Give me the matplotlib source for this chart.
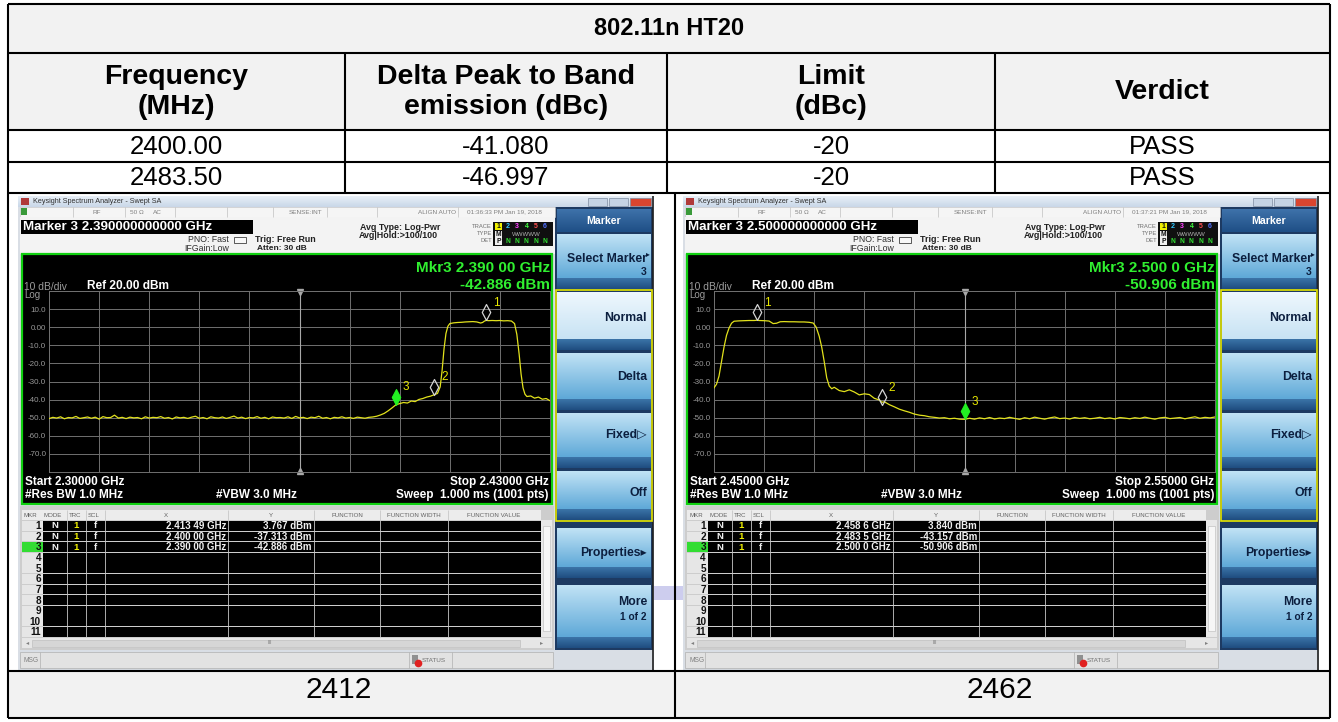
import numpy as np
import matplotlib
matplotlib.use("Agg")
import matplotlib.pyplot as plt
from matplotlib.patches import Rectangle
from matplotlib.path import Path
from matplotlib.colors import to_rgb

# ---------------- data ----------------
title = "802.11n HT20"
headers = ["Frequency\n(MHz)", "Delta Peak to Band\nemission (dBc)", "Limit\n(dBc)", "Verdict"]
band_freq = ["2400.00", "2483.50"]
delta_dbc = ["-41.080", "-46.997"]
limit_dbc = ["-20", "-20"]
verdict = ["PASS", "PASS"]
channels = ["2412", "2462"]

left_span = (2300.0, 2430.0)          # MHz
left_floor_start = 2300               # floor points every 1 MHz
left_floor_dbm = [
    -50.5, -49.8, -50.2, -49.5, -50.6, -49.9, -50.1, -49.3, -50.4, -50.0,
    -49.6, -50.3, -49.7, -50.8, -49.4, -50.0, -49.9, -48.6, -50.2, -49.8,
    -50.5, -49.7, -50.1, -49.9, -50.6, -49.5, -50.2, -49.8, -50.0, -49.4,
    -50.3, -49.9, -50.7, -49.6, -50.1, -49.8, -50.4, -49.7, -49.2, -50.3,
    -49.9, -50.6, -49.5, -50.0, -50.2, -49.6, -50.4, -49.8, -49.1, -50.2,
    -49.7, -50.5, -49.9, -50.1, -49.4, -50.3, -49.8, -50.6, -49.6, -50.0,
    -49.9, -50.2, -49.5, -50.4, -49.3, -50.1, -49.8, -50.5, -49.7, -50.0,
    -49.2, -50.3, -49.9, -50.6, -49.8, -50.1, -49.5, -50.2, -49.9, -50.4,
    -49.7, -50.0, -50.3, -49.8, -49.6, -49.2, -48.5]
left_edge = [
    (2387, -47.6), (2388, -46.2), (2389, -44.6), (2390, -42.9), (2391, -42.2),
    (2392, -41.6), (2393, -41.9), (2394, -40.8), (2395, -41.1), (2396, -39.9),
    (2397, -39.4), (2398, -38.6), (2399, -38.1), (2400, -37.3), (2400.8, -36.6),
    (2401.5, -33.0), (2402, -24.0), (2402.5, -12.0), (2403, -3.5), (2403.5, 0.5),
    (2404, 2.0), (2405, 2.4), (2406, 2.6), (2407, 2.7), (2408, 2.9), (2409, 3.0),
    (2410, 3.1), (2411, 2.9), (2412, 2.3), (2412.5, 2.6), (2413, 3.4), (2413.5, 3.77),
    (2414, 3.6), (2415, 3.7), (2416, 3.6), (2417, 3.7), (2418, 3.5), (2419, 3.6),
    (2420, 3.4), (2420.8, 2.0), (2421.4, -4.0), (2422, -15.0), (2422.5, -26.0),
    (2423, -33.5), (2423.5, -37.0), (2424, -38.3), (2425, -38.0), (2426, -39.2),
    (2427, -38.6), (2428, -39.8), (2429, -39.4), (2430, -40.6)]
left_mkr_mhz = [2413.49, 2400.00, 2390.00]
left_mkr_dbm = [3.767, -37.313, -42.886]
left_mkr_x = ["2.413 49 GHz", "2.400 00 GHz", "2.390 00 GHz"]
left_mkr_y = ["3.767 dBm", "-37.313 dBm", "-42.886 dBm"]

right_span = (2450.0, 2550.0)
right_edge = [
    (2450, -33.5), (2450.5, -31.5), (2451, -27.0), (2451.5, -19.0), (2452, -11.0),
    (2452.5, -4.5), (2453, -0.5), (2453.5, 2.2), (2454, 3.3), (2455, 3.5),
    (2456, 3.6), (2457, 3.7), (2458, 3.7), (2458.6, 3.84), (2459, 3.7), (2460, 3.6),
    (2461, 3.4), (2461.8, 2.0), (2462.5, 2.2), (2463.2, 3.0), (2464, 3.1), (2465, 3.0),
    (2466, 3.0), (2467, 2.9), (2468, 2.9), (2469, 2.7), (2469.8, 2.3), (2470.4, 0.0),
    (2471, -5.0), (2471.5, -11.0), (2472, -19.0), (2472.5, -28.0), (2473, -32.5),
    (2473.5, -34.0), (2474, -33.2), (2475, -35.0), (2476, -35.6), (2477, -34.6),
    (2478, -35.8), (2479, -37.4), (2480, -36.8), (2481, -37.2), (2482, -39.3),
    (2483, -40.2), (2483.5, -41.5), (2484, -41.2), (2485, -42.8), (2486, -44.0),
    (2487, -45.3), (2488, -46.2), (2489, -47.0), (2490, -48.0), (2491, -48.6),
    (2492, -48.9), (2493, -49.5), (2494, -49.8), (2495, -50.2), (2496, -50.0),
    (2497, -50.6), (2498, -50.3), (2499, -50.8), (2500, -50.9)]
right_floor_start = 2501
right_floor_dbm = [
    -50.3, -50.8, -50.1, -50.6, -49.9, -50.7, -50.2, -50.5, -49.8, -50.4,
    -50.9, -50.0, -50.6, -49.7, -50.3, -50.8, -50.1, -49.6, -50.5, -50.2,
    -50.7, -49.9, -50.4, -50.0, -50.6, -50.3, -49.8, -50.5, -50.1, -50.7,
    -49.9, -50.2, -50.6, -50.0, -50.4, -49.7, -50.3, -50.8, -50.1, -49.8,
    -50.5, -50.2, -49.9, -50.6, -50.0, -49.5, -50.3, -49.8, -50.1, -49.6]
right_mkr_mhz = [2458.6, 2483.5, 2500.0]
right_mkr_dbm = [3.840, -43.157, -50.906]
right_mkr_x = ["2.458 6 GHz", "2.483 5 GHz", "2.500 0 GHz"]
right_mkr_y = ["3.840 dBm", "-43.157 dBm", "-50.906 dBm"]

y_tick_labels = ["", "-70.0", "-60.0", "-50.0", "-40.0", "-30.0", "-20.0", "-10.0", "0.00", "10.0", ""]

screens = [
    dict(ox=0, time="01:36:33 PM Jan 19, 2018", marker="Marker 3 2.390000000000 GHz",
         mkr1="Mkr3 2.390 00 GHz", mkr2="-42.886 dBm",
         start="Start 2.30000 GHz", stop="Stop 2.43000 GHz",
         span=left_span,
         f=list(range(left_floor_start, left_floor_start + len(left_floor_dbm))) + [p[0] for p in left_edge],
         v=left_floor_dbm + [p[1] for p in left_edge],
         mf=left_mkr_mhz, mv=left_mkr_dbm, mx=left_mkr_x, my=left_mkr_y),
    dict(ox=665, time="01:37:21 PM Jan 19, 2018", marker="Marker 3 2.500000000000 GHz",
         mkr1="Mkr3 2.500 0 GHz", mkr2="-50.906 dBm",
         start="Start 2.45000 GHz", stop="Stop 2.55000 GHz",
         span=right_span,
         f=[p[0] for p in right_edge] + list(range(right_floor_start, right_floor_start + len(right_floor_dbm))),
         v=[p[1] for p in right_edge] + right_floor_dbm,
         mf=right_mkr_mhz, mv=right_mkr_dbm, mx=right_mkr_x, my=right_mkr_y),
]

# ---------------- drawing helpers ----------------
W, H = 1338, 722
plt.rcParams['font.family'] = ['Liberation Sans', 'DejaVu Sans']
fig = plt.figure(figsize=(W / 100, H / 100), dpi=100)
base = fig.add_axes([0, 0, 1, 1])
base.axis('off')


def rect(x0, y0, x1, y1, fc, ec='none', lw=0, z=1):
    base.add_patch(Rectangle((x0, y0), x1 - x0, y1 - y0, facecolor=fc,
                             edgecolor=ec, linewidth=lw, zorder=z))


def grad(x0, y0, x1, y1, c_top, c_bot, z=1):
    t = np.linspace(0, 1, 32)[:, None]
    a, b = np.array(to_rgb(c_top)), np.array(to_rgb(c_bot))
    img = (a[None, :] * (1 - t) + b[None, :] * t)[:, None, :]
    base.imshow(img, extent=[x0, x1, y1, y0], aspect='auto',
                interpolation='bilinear', zorder=z)


def txt(x, y, s, size, color='black', ha='left', va='center', weight='normal', z=6, **kw):
    base.text(x, y, s, fontsize=size, color=color, ha=ha, va=va,
              fontweight=weight, zorder=z, **kw)


def hline(x0, x1, y, color='black', lw=1.5, z=8):
    base.plot([x0, x1], [y, y], color=color, lw=lw, zorder=z, solid_capstyle='butt')


def vline(x, y0, y1, color='black', lw=1.5, z=8):
    base.plot([x, x], [y0, y1], color=color, lw=lw, zorder=z, solid_capstyle='butt')


# ---------------- table ----------------
L, R = 8, 1330
rows_y = [4, 53, 130, 162, 193, 671, 718]
rect(L, 4, R, 130, '#f2f2f2')
rect(L, 671, R, 718, '#f2f2f2')
for y in rows_y:
    hline(L, R, y)
vline(L, 4, 718)
vline(R, 4, 718)
for x in [345, 667, 995]:
    vline(x, 53, 193)
vline(675, 193, 718)
# lavender artefact between screenshots
rect(652, 586, 686, 600, '#cdcdee', z=2)

txt((L + R) / 2, 28.5, title, 17, ha='center', weight='bold')
col_c = [(L + 345) / 2, (345 + 667) / 2, (667 + 995) / 2, (995 + R) / 2]
for c, h in zip(col_c, headers):
    txt(c, 92, h, 20.5, ha='center', weight='bold', multialignment='center')
for i, yc in enumerate([146.5, 178]):
    for c, s in zip(col_c, [band_freq[i], delta_dbc[i], limit_dbc[i], verdict[i]]):
        txt(c, yc, s, 18.5, ha='center')
txt((L + 675) / 2 - 3, 690, channels[0], 21.5, ha='center')
txt((675 + R) / 2 - 3, 690, channels[1], 21.5, ha='center')

# ---------------- diamond marker (tip at the data point) ----------------
diamond = Path([(0, 0), (0.53, 1), (0, 2), (-0.53, 1), (0, 0)],
               [Path.MOVETO, Path.LINETO, Path.LINETO, Path.LINETO, Path.CLOSEPOLY])

NAVY = '#0c1f3f'


def softkey(ox, y0, y1, lines, selected=False):
    X = lambda x: x + ox
    band = 11
    if selected:
        grad(X(557), y0, X(651), y1 - band, '#eef7fd', '#c8e3f4', z=3)
    else:
        grad(X(557), y0, X(651), y1 - band, '#c0e2f5', '#5fa9d8', z=3)
    grad(X(557), y1 - band, X(651), y1, '#3b74a8', '#1f4d80', z=3)
    for (s, yy, fs) in lines:
        txt(X(647), yy, s, fs, color=NAVY, ha='right', weight='bold')


def screen(d):
    ox = d['ox']
    X = lambda x: x + ox
    # window
    rect(X(18), 196, X(654), 670, '#d9dee5', z=2)
    grad(X(18), 196, X(654), 207, '#e9f0f8', '#c9d7e8', z=3)
    rect(X(21), 198, X(29), 205, '#b03a3a', z=4)
    txt(X(33), 201.5, "Keysight Spectrum Analyzer - Swept SA", 5.2, color='#303030')
    for bx0, bx1, col in [(588, 607, '#c5d3e4'), (609, 628, '#c5d3e4'), (630, 651, '#d9452f')]:
        rect(X(bx0), 198, X(bx1), 205.5, col, ec='#7d8ba0', lw=0.5, z=4)
    vline(X(653), 196, 670, color='#202020', lw=1.2, z=5)
    # status row
    rect(X(20), 207, X(555), 217, '#f5f5f5', ec='#c4c4c4', lw=0.4, z=3)
    rect(X(21), 208, X(27), 215, '#3a9a3a', z=4)
    for sx in [73, 125, 175, 227, 273, 327, 377, 458]:
        vline(X(sx), 207, 217, color='#c0c0c0', lw=0.5, z=4)
    for sx, s, ha in [(97, "RF", 'center'), (137, "50 \u03a9", 'center'), (157, "AC", 'center'),
                      (306, "SENSE:INT", 'center'), (437, "ALIGN AUTO", 'center'),
                      (504, d['time'], 'center')]:
        txt(X(sx), 212, s, 4.6, color='#808080', ha=ha)
    # info area
    rect(X(20), 217, X(555), 254, '#f3f3f3', z=3)
    rect(X(21), 220, X(253), 233.5, 'black', z=4)
    txt(X(23), 226.8, d['marker'], 9.6, color='white', weight='bold')
    txt(X(229), 240, "PNO: Fast", 6.3, color='#303030', ha='right')
    txt(X(229), 248.5, "IFGain:Low", 6.3, color='#303030', ha='right')
    rect(X(234), 237, X(246), 243, '#f8f8f8', ec='#404040', lw=0.6, z=4)
    txt(X(255), 240, "Trig: Free Run", 6.4, color='#202020', weight='bold')
    txt(X(257), 249, "Atten: 30 dB", 6.0, color='#202020', weight='bold')
    txt(X(400), 227, "Avg Type: Log-Pwr", 6.4, color='#202020', ha='center', weight='bold')
    txt(X(398), 235, "Avg|Hold:>100/100", 6.4, color='#202020', ha='center', weight='bold')
    for yy, s in [(226, "TRACE"), (233.5, "TYPE"), (241, "DET")]:
        txt(X(492), yy, s, 4.2, color='#707070', ha='right')
    rect(X(493), 222, X(553), 246, '#101010', z=4)
    cols6 = ['#101010', '#30c8ff', '#ff40ff', '#40ff40', '#ff5050', '#5070ff']
    rect(X(495), 223, X(502), 230, '#f0f000', z=5)
    for k in range(6):
        txt(X(498.5 + k * 9.3), 226.5, str(k + 1), 5.0, color=cols6[k], ha='center', weight='bold')
    rect(X(495), 230.5, X(502), 237.5, '#f0f0f0', z=5)
    txt(X(498.5), 234, "M", 4.8, color='#101010', ha='center', weight='bold')
    txt(X(526), 234, "WWWWW", 4.4, color='#b0b0b0', ha='center')
    rect(X(495), 238, X(502), 245, '#f0f0f0', z=5)
    txt(X(498.5), 241.5, "P", 4.8, color='#101010', ha='center', weight='bold')
    for k in range(5):
        txt(X(507.8 + k * 9.3), 241.5, "N", 4.8, color='#30e030', ha='center', weight='bold')

    # graph panel
    rect(X(22), 254, X(552), 504, 'black', ec='#10d010', lw=1.6, z=3)
    txt(X(24), 287, "10 dB/div", 7.4, color='#9c9c9c')
    txt(X(24), 294.5, "Log", 7.0, color='#9c9c9c')
    txt(X(87), 286, "Ref 20.00 dBm", 8.6, color='white', weight='bold')
    txt(X(550), 268, d['mkr1'], 11, color='#30f030', ha='right', weight='bold')
    txt(X(550), 285, d['mkr2'], 11, color='#30f030', ha='right', weight='bold')
    txt(X(25), 482, d['start'], 8.5, color='white', weight='bold')
    txt(X(25), 495, "#Res BW 1.0 MHz", 8.5, color='white', weight='bold')
    txt(X(216), 495, "#VBW 3.0 MHz", 8.5, color='white', weight='bold')
    txt(X(549), 482, d['stop'], 8.5, color='white', ha='right', weight='bold')
    txt(X(549), 495, "Sweep  1.000 ms (1001 pts)", 8.5, color='white', ha='right', weight='bold')

    # marker table
    rect(X(20), 506, X(554), 650, '#cdcdcd', z=3)
    rect(X(22), 510, X(541), 520, '#ececec', z=4)
    for sx, s in [(24, "MKR"), (44, "MODE"), (69, "TRC"), (88, "SCL")]:
        txt(X(sx), 515.5, s, 4.4, color='#606060')
    for sx, s in [(166, "X"), (271, "Y"), (347, "FUNCTION"), (414, "FUNCTION WIDTH"), (494, "FUNCTION VALUE")]:
        txt(X(sx), 515.5, s, 4.4, color='#606060', ha='center')
    rh = 10.6
    for i in range(11):
        y0 = 521 + i * rh
        rect(X(22), y0, X(43), y0 + rh - 0.8, '#33dd33' if i == 2 else '#e6e6e6', z=4)
        rect(X(43), y0, X(541), y0 + rh - 0.8, '#000000', z=4)
        txt(X(41), y0 + rh / 2, str(i + 1), 7.2, color='#101010', ha='right', weight='bold')
    for sx in [67, 86, 105, 228, 314, 380, 448]:
        vline(X(sx), 510, 637, color='#c8c8c8', lw=0.6, z=5)
    for i in range(3):
        yc = 521 + i * rh + rh / 2 - 0.4
        txt(X(55), yc, "N", 6.8, color='#f0f0f0', ha='center', weight='bold')
        txt(X(76), yc, "1", 6.8, color='#f0f000', ha='center', weight='bold')
        txt(X(95), yc, "f", 6.8, color='#f0f0f0', ha='center', weight='bold')
        txt(X(226), yc, d['mx'][i], 7.0, color='#f0f0f0', ha='right', weight='bold')
        txt(X(312), yc, d['my'][i], 7.0, color='#f0f0f0', ha='right', weight='bold')
    rect(X(541), 520, X(552), 637, '#e8e8e8', z=4)
    rect(X(543), 526, X(550), 631, '#f6f6f6', ec='#b8b8b8', lw=0.4, z=5)
    rect(X(22), 638, X(552), 648, '#e6e6e6', z=4)
    rect(X(32), 639.5, X(520), 646.5, '#d6d6d6', ec='#b8b8b8', lw=0.4, z=5)
    txt(X(26), 643, "\u25c2", 4.5, color='#808080')
    txt(X(540), 643, "\u25b8", 4.5, color='#808080')
    txt(X(270), 643, "III", 4.0, color='#808080', ha='center')
    rect(X(20), 652, X(553), 668, '#e2e2e2', ec='#b0b0b0', lw=0.5, z=4)
    txt(X(24), 660, "MSG", 4.8, color='#808080')
    vline(X(40), 652, 668, color='#b0b0b0', lw=0.5, z=5)
    vline(X(409), 652, 668, color='#b0b0b0', lw=0.5, z=5)
    vline(X(452), 652, 668, color='#b0b0b0', lw=0.5, z=5)
    rect(X(412), 655, X(418), 664, '#909090', z=5)
    base.plot([X(418)], [663], 'o', ms=4.5, color='#e02020', zorder=6)
    txt(X(422), 660, "STATUS", 4.6, color='#707070')

    # softkey panel
    rect(X(555), 207, X(653), 650, '#1d3a62', z=2.5)
    grad(X(557), 209, X(651), 232, '#3e72aa', '#1f4f86', z=3)
    txt(X(604), 221, "Marker", 7.6, color='white', ha='center', weight='bold')
    softkey(ox, 234, 289, [("Select Marker", 259, 8.8), ("3", 272, 7.5)])
    txt(X(650), 255, "\u25b8", 5.5, color=NAVY, ha='right', z=7)
    softkey(ox, 292, 350, [("Normal", 318, 8.8)], selected=True)
    softkey(ox, 353, 410, [("Delta", 377, 8.8)])
    softkey(ox, 413, 468, [("Fixed\u25b7", 435, 8.8)])
    softkey(ox, 471, 520, [("Off", 493, 8.8)])
    rect(X(556), 290, X(652), 521, 'none', ec='#e6e600', lw=1.2, z=6)
    softkey(ox, 528, 578, [("Properties\u25b8", 553, 8.8)])
    softkey(ox, 585, 648, [("More", 602, 8.8), ("1 of 2", 617, 7.3)])

    # spectrum graph
    gx0, gx1, gy0, gy1 = 49 + ox, 550 + ox, 291, 472
    ax = fig.add_axes([gx0 / W, 1 - gy1 / H, (gx1 - gx0) / W, (gy1 - gy0) / H])
    ax.set_facecolor('black')
    f0, f1 = d['span']
    ax.set_xlim(f0, f1)
    ax.set_ylim(-80, 20)
    ax.set_xticks(np.linspace(f0, f1, 11))
    ax.set_yticks(range(-80, 21, 10))
    ax.set_yticklabels(y_tick_labels)
    ax.grid(True, color='#707070', lw=0.7)
    ax.tick_params(length=0, labelbottom=False, pad=2, labelsize=5.8, labelcolor='#999999')
    for s in ax.spines.values():
        s.set_color('#707070')
        s.set_linewidth(0.7)
    mid = (f0 + f1) / 2
    ax.axvline(mid, color='#a8a8a8', lw=0.8)
    ax.plot([mid], [19.2], marker='v', ms=4, color='#a8a8a8', clip_on=False)
    ax.plot([mid], [-79.2], marker='^', ms=4, color='#a8a8a8', clip_on=False)
    ax.plot(d['f'], d['v'], color='#e2e21c', lw=0.9, zorder=3)
    for k, (mf, mv) in enumerate(zip(d['mf'], d['mv'])):
        if k == 2:
            ax.plot([mf], [mv], marker=diamond, ms=23, mfc='#22f022', mec='#22f022', mew=0.8, zorder=5)
        else:
            ax.plot([mf], [mv], marker=diamond, ms=23, mfc='none', mec='#d4d4d4', mew=0.9, zorder=5)
        ax.annotate(str(k + 1), (mf, mv), xytext=(5, 12.5), textcoords='offset points',
                    fontsize=8.5, color='#e8e800', ha='left', va='center', zorder=6)


for d in screens:
    screen(d)

base.set_xlim(0, W)
base.set_ylim(H, 0)
fig.savefig("out.png", dpi=100, facecolor='white')
